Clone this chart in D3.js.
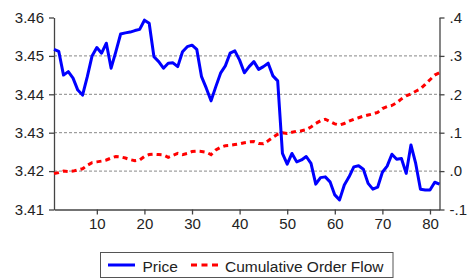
<!DOCTYPE html>
<html>
<head>
<meta charset="utf-8">
<script src="https://cdnjs.cloudflare.com/ajax/libs/d3/7.8.5/d3.min.js"></script>
<style>
  body { margin: 0; background: #fff; }
  svg { display: block; font-family: "Liberation Sans", Arial, sans-serif; }
  .axis path, .axis line { stroke: #444; stroke-width: 1.3; }
  .axis text { fill: #222; font-size: 15px; }
</style>
</head>
<body>
<svg width="469" height="280"></svg>
<script>
//observations 1..82
let price = [3.4517, 3.4512, 3.4450, 3.4459, 3.4442, 3.4411, 3.4398, 3.4446, 3.4500, 3.4522,
  3.4507, 3.4533, 3.4468, 3.4511, 3.4557, 3.4560, 3.4562, 3.4566, 3.4569, 3.4593,
  3.4585, 3.4498, 3.4485, 3.4468, 3.4481, 3.4482, 3.4472, 3.4511, 3.4524, 3.4528,
  3.4517, 3.4446, 3.4416, 3.4383, 3.4420, 3.4455, 3.4474, 3.4507, 3.4513, 3.4489,
  3.4456, 3.4472, 3.4485, 3.4465, 3.4472, 3.4481, 3.4448, 3.4435, 3.4246, 3.4218,
  3.4246, 3.4224, 3.4229, 3.4238, 3.4220, 3.4166, 3.4183, 3.4185, 3.4172, 3.4138,
  3.4125, 3.4164, 3.4185, 3.4211, 3.4214, 3.4205, 3.4168, 3.4153, 3.4158, 3.4197,
  3.4213, 3.4244, 3.4231, 3.4233, 3.4194, 3.4268, 3.4220, 3.4153, 3.4151, 3.4151,
  3.4171, 3.4166];

let orderFlow = [-0.006, -0.004, 0.000, -0.001, 0.000, 0.003, 0.006, 0.015, 0.022, 0.024,
  0.026, 0.029, 0.034, 0.038, 0.037, 0.034, 0.030, 0.027, 0.029, 0.038,
  0.043, 0.044, 0.043, 0.042, 0.036, 0.041, 0.046, 0.043, 0.046, 0.051,
  0.052, 0.051, 0.049, 0.043, 0.055, 0.062, 0.066, 0.067, 0.069, 0.071,
  0.074, 0.076, 0.077, 0.072, 0.071, 0.079, 0.088, 0.096, 0.100, 0.098,
  0.101, 0.104, 0.105, 0.108, 0.115, 0.124, 0.131, 0.135, 0.129, 0.123,
  0.120, 0.124, 0.130, 0.135, 0.139, 0.143, 0.146, 0.149, 0.153, 0.163,
  0.168, 0.171, 0.178, 0.188, 0.196, 0.201, 0.208, 0.214, 0.226, 0.238,
  0.250, 0.256];

//tick values
let xTicks = [10, 20, 30, 40, 50, 60, 70, 80];
let leftTicks = [3.41, 3.42, 3.43, 3.44, 3.45, 3.46];
let rightTicks = [-0.1, 0.0, 0.1, 0.2, 0.3, 0.4];
let gridTicks = [3.42, 3.43, 3.44, 3.45];
let seriesNames = ["Price", "Cumulative Order Flow"];

let svg = d3.select("svg");
let plotLeft = 54, plotRight = 439.5, plotTop = 17.5, plotBottom = 209.5;

let x = d3.scaleLinear().domain([1, price.length]).range([plotLeft, plotRight]);
let yL = d3.scaleLinear().domain([3.41, 3.46]).range([plotBottom, plotTop]);
let yR = d3.scaleLinear().domain([-0.1, 0.4]).range([plotBottom, plotTop]);

//horizontal dashed grid
svg.append("g")
  .selectAll("line")
  .data(gridTicks)
  .enter().append("line")
  .attr("x1", plotLeft).attr("x2", plotRight)
  .attr("y1", d => yL(d)).attr("y2", d => yL(d))
  .attr("stroke", "#888")
  .attr("stroke-width", 1)
  .attr("stroke-dasharray", "3,2");

//axes
svg.append("g")
  .attr("class", "axis")
  .attr("transform", "translate(0," + plotBottom + ")")
  .call(d3.axisBottom(x).tickValues(xTicks).tickSize(5).tickSizeOuter(0).tickPadding(4).tickFormat(d3.format("d")));

svg.append("g")
  .attr("class", "axis")
  .attr("transform", "translate(" + plotLeft + ",0)")
  .call(d3.axisLeft(yL).tickValues(leftTicks).tickSize(5).tickSizeOuter(0).tickPadding(5).tickFormat(d3.format(".2f")));

svg.append("g")
  .attr("class", "axis")
  .attr("transform", "translate(" + plotRight + ",0)")
  .call(d3.axisRight(yR).tickValues(rightTicks).tickSize(5).tickSizeOuter(0).tickPadding(5)
    .tickFormat(d => (d < 0 ? "-" : "") + "." + Math.round(Math.abs(d) * 10)));

svg.selectAll(".axis text").style("font-family", "'Liberation Sans', Arial, sans-serif");

//series lines
let priceLine = d3.line().x((d, i) => x(i + 1)).y(d => yL(d));
let flowLine = d3.line().x((d, i) => x(i + 1)).y(d => yR(d));

svg.append("path")
  .datum(orderFlow)
  .attr("d", flowLine)
  .attr("fill", "none")
  .attr("stroke", "#ff0000")
  .attr("stroke-width", 3)
  .attr("stroke-dasharray", "5,4");

svg.append("path")
  .datum(price)
  .attr("d", priceLine)
  .attr("fill", "none")
  .attr("stroke", "#0000ff")
  .attr("stroke-width", 3)
  .attr("stroke-linejoin", "round");

//legend
let legend = svg.append("g");
legend.append("rect")
  .attr("x", 100.5).attr("y", 252.5)
  .attr("width", 292.5).attr("height", 25)
  .attr("fill", "#fff")
  .attr("stroke", "#555")
  .attr("stroke-width", 1);

legend.append("line")
  .attr("x1", 108).attr("x2", 135).attr("y1", 265).attr("y2", 265)
  .attr("stroke", "#0000ff").attr("stroke-width", 3);
legend.append("line")
  .attr("x1", 191).attr("x2", 219).attr("y1", 265).attr("y2", 265)
  .attr("stroke", "#ff0000").attr("stroke-width", 3)
  .attr("stroke-dasharray", "6,4.5");

legend.selectAll("text")
  .data(seriesNames)
  .enter().append("text")
  .attr("x", (d, i) => i === 0 ? 142.5 : 225)
  .attr("y", 271.5)
  .attr("fill", "#222")
  .style("font-size", "15.5px")
  .text(d => d);
</script>
</body>
</html>
